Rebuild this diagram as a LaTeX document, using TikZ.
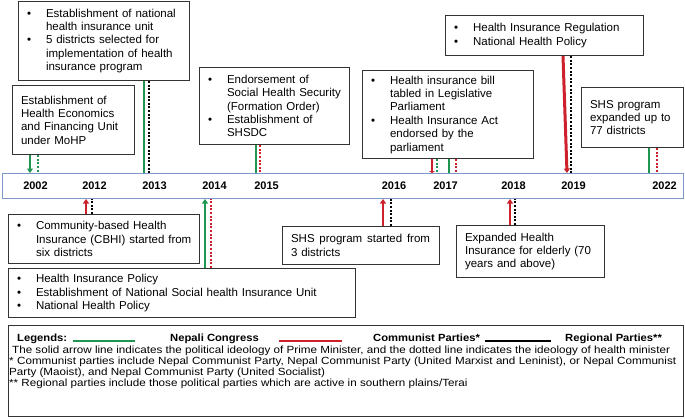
\documentclass[tikz,border=0pt]{standalone}
\usepackage{fontspec}
\setmainfont{Liberation Sans}
\newfontfamily\legfont[FakeStretch=1.12]{Liberation Sans}
\newfontfamily\legbfont[FakeStretch=1.08]{Liberation Sans}
\usetikzlibrary{arrows.meta}
\definecolor{ncgreen}{RGB}{30,150,80}
\definecolor{cpred}{RGB}{205,32,42}
\definecolor{barblue}{RGB}{125,152,200}
\newcommand\bu{\makebox[19pt][l]{\textbullet}}
\newcommand\ind{\hspace*{19pt}}
\begin{document}
\begin{tikzpicture}[x=1pt,y=-1pt,
  box/.style={draw=black!80, line width=1.1pt, fill=white,
    font=\fontsize{11.5}{13.4}\selectfont, align=left, anchor=north west,
    inner xsep=8.5pt, inner ysep=1pt},
  year/.style={font=\bfseries\fontsize{11}{13}\selectfont, anchor=base, inner sep=0pt},
  legtxt/.style={anchor=base west, inner sep=0pt, font=\legfont\fontsize{10.4}{11.2}\selectfont},
  legbold/.style={legtxt, font=\legbfont\bfseries\fontsize{10.4}{11.2}\selectfont},
  solidg/.style={draw=ncgreen, line width=2pt},
  solidr/.style={draw=cpred, line width=2pt},
  dotk/.style={draw=black, line width=2pt, dash pattern=on 2pt off 1.6pt},
  dotr/.style={draw=cpred, line width=2pt, dash pattern=on 2pt off 1.6pt},
  dotg/.style={draw=ncgreen, line width=2pt, dash pattern=on 2pt off 1.6pt},
  tipg/.style={-{Triangle[width=6pt,length=4.5pt,fill=ncgreen]}},
  tipr/.style={-{Triangle[width=6pt,length=4.5pt,fill=cpred]}}
]
\useasboundingbox (0,0) rectangle (685,418);

% timeline bar
\node[draw=barblue, line width=1pt, fill=white, minimum width=681pt, minimum height=25pt,
  anchor=north west, inner sep=0pt] (bar) at (2,173) {};

% year labels
\node[year] (y2002) at (35.5,189) {2002};
\node[year] (y2012) at (94.5,189) {2012};
\node[year] (y2013) at (154.5,189) {2013};
\node[year] (y2014) at (214.5,189) {2014};
\node[year] (y2015) at (266.5,189) {2015};
\node[year] (y2016) at (394,189) {2016};
\node[year] (y2017) at (445.5,189) {2017};
\node[year] (y2018) at (513.5,189) {2018};
\node[year] (y2019) at (573.5,189) {2019};
\node[year] (y2022) at (664.5,189) {2022};

% boxes above
\node[box, text width=105pt, minimum height=69pt] (b2002) at (12,85)
  {Establishment of\\Health Economics\\and Financing Unit\\under MoHP};
\node[box, text width=154pt, minimum height=79.4pt] (b2013) at (18,0.6)
  {\bu Establishment of national\\\ind health insurance unit\\\bu 5 districts selected for\\\ind implementation of health\\\ind insurance program};
\node[box, text width=133pt, minimum height=77pt] (b2015) at (199,67)
  {\bu Endorsement of\\\ind \mbox{Social Health Security}\\\ind (Formation Order)\\\bu Establishment of\\\ind SHSDC};
\node[box, text width=154pt, minimum height=88pt] (b2017) at (362,70)
  {\bu Health insurance bill\\\ind tabled in Legislative\\\ind Parliament\\\bu Health Insurance Act\\\ind endorsed by the\\\ind parliament};
\node[box, text width=181pt, minimum height=40pt] (b2019) at (445,15)
  {\bu Health Insurance Regulation\\\bu National Health Policy};
\node[box, text width=85pt, minimum height=60pt] (b2022) at (581,87)
  {SHS program\\expanded up to\\77 districts};

% boxes below
\node[box, text width=174pt, minimum height=49pt] (b2012) at (8,214)
  {\bu \mbox{Community-based Health}\\\ind \mbox{Insurance (CBHI) started from}\\\ind six districts};
\node[box, text width=330pt, minimum height=49pt] (b2014) at (8,268)
  {\bu Health Insurance Policy\\\bu Establishment of National Social health Insurance Unit\\\bu National Health Policy};
\node[box, text width=140pt, minimum height=38pt] (b2016) at (282,226)
  {\hbox to 139pt{SHS\hfill program\hfill started\hfill from}\\3 districts};
\node[box, text width=131pt, minimum height=52pt] (b2018) at (456,225)
  {Expanded Health\\\mbox{Insurance for elderly (70}\\years and above)};

% x positions of connectors
\coordinate (x02s) at (30,0);   \coordinate (x02d) at (37.7,0);
\coordinate (x12s) at (86,0);   \coordinate (x12d) at (92,0);
\coordinate (x13s) at (144,0);  \coordinate (x13d) at (149,0);
\coordinate (x14s) at (205,0);  \coordinate (x14d) at (210.7,0);
\coordinate (x15s) at (256,0);  \coordinate (x15d) at (260,0);
\coordinate (x16s) at (383,0);  \coordinate (x16d) at (391,0);
\coordinate (x17s) at (432,0);  \coordinate (x17d) at (437,0);
\coordinate (x17t) at (449,0);  \coordinate (x17e) at (456,0);
\coordinate (x18s) at (510,0);  \coordinate (x18d) at (515,0);
\coordinate (x19s) at (567,0);  \coordinate (x19t) at (563,0);  \coordinate (x19d) at (571,0);
\coordinate (x22s) at (649,0);  \coordinate (x22d) at (657,0);

% connectors above the bar
\draw[solidg,tipg] (b2002.south -| x02s) -- (bar.north -| x02s);
\draw[dotg] (b2002.south -| x02d) -- (bar.north -| x02d);
\draw[solidg] (b2013.south -| x13s) -- (bar.north -| x13s);
\draw[dotk] (b2013.south -| x13d) -- (bar.north -| x13d);
\draw[solidg] (b2015.south -| x15s) -- (bar.north -| x15s);
\draw[dotr] (b2015.south -| x15d) -- (bar.north -| x15d);
\draw[solidr,-{Triangle[width=6pt,length=2pt,fill=cpred]}] (b2017.south -| x17s) -- (bar.north -| x17s);
\draw[dotg] (b2017.south -| x17d) -- (bar.north -| x17d);
\draw[solidg] (b2017.south -| x17t) -- (bar.north -| x17t);
\draw[dotr] (b2017.south -| x17e) -- (bar.north -| x17e);
\draw[dotk] (b2019.south -| x19d) -- (bar.north -| x19d);
\draw[solidr,line width=3pt,tipr] (b2019.south -| x19t) -- (bar.north -| x19s);
\draw[solidg] (b2022.south -| x22s) -- (bar.north -| x22s);
\draw[dotr] (b2022.south -| x22d) -- (bar.north -| x22d);

% connectors below the bar
\draw[solidr,tipr] (b2012.north -| x12s) -- (bar.south -| x12s);
\draw[dotk] (b2012.north -| x12d) -- (bar.south -| x12d);
\draw[solidg,tipg] (b2014.north -| x14s) -- (bar.south -| x14s);
\draw[dotr] (b2014.north -| x14d) -- (bar.south -| x14d);
\draw[solidr,tipr] (b2016.north -| x16s) -- (bar.south -| x16s);
\draw[dotk] (b2016.north -| x16d) -- (bar.south -| x16d);
\draw[solidr,tipr] (b2018.north -| x18s) -- (bar.south -| x18s);
\draw[dotk] (b2018.north -| x18d) -- (bar.south -| x18d);

% legend
\node[draw=black!80, line width=1.1pt, minimum width=675pt, minimum height=91pt,
  anchor=north west, inner sep=0pt] (leg) at (8,325) {};
\node[legbold] (lgA) at (17,341) {Legends:};
\coordinate (lgGa) at (73,340.5); \coordinate (lgGb) at (135,340.5);
\draw[draw=ncgreen, line width=2pt] (lgGa) -- (lgGb);
\node[legbold] (lgB) at (170,341) {Nepali Congress};
\coordinate (lgRa) at (279,340.5); \coordinate (lgRb) at (342,340.5);
\draw[draw=cpred, line width=2pt] (lgRa) -- (lgRb);
\node[legbold] (lgC) at (373,341) {Communist Parties*};
\coordinate (lgKa) at (485,340.5); \coordinate (lgKb) at (551,340.5);
\draw[draw=black, line width=2pt] (lgKa) -- (lgKb);
\node[legbold] (lgD) at (565,341) {Regional Parties**};
\node[legtxt] (lgL2) at (12,353) {The solid arrow line indicates the political ideology of Prime Minister, and the dotted line indicates the ideology of health minister};
\node[legtxt] (lgL3) at (9,364) {\hbox to 667pt{* Communist parties include Nepal Communist Party, Nepal Communist Party (United Marxist and Leninist), or Nepal Communist}};
\node[legtxt] (lgL4) at (9,375) {Party (Maoist), and Nepal Communist Party (United Socialist)};
\node[legtxt] (lgL5) at (9,386) {** Regional parties include those political parties which are active in southern plains/Terai};
\end{tikzpicture}
\end{document}
